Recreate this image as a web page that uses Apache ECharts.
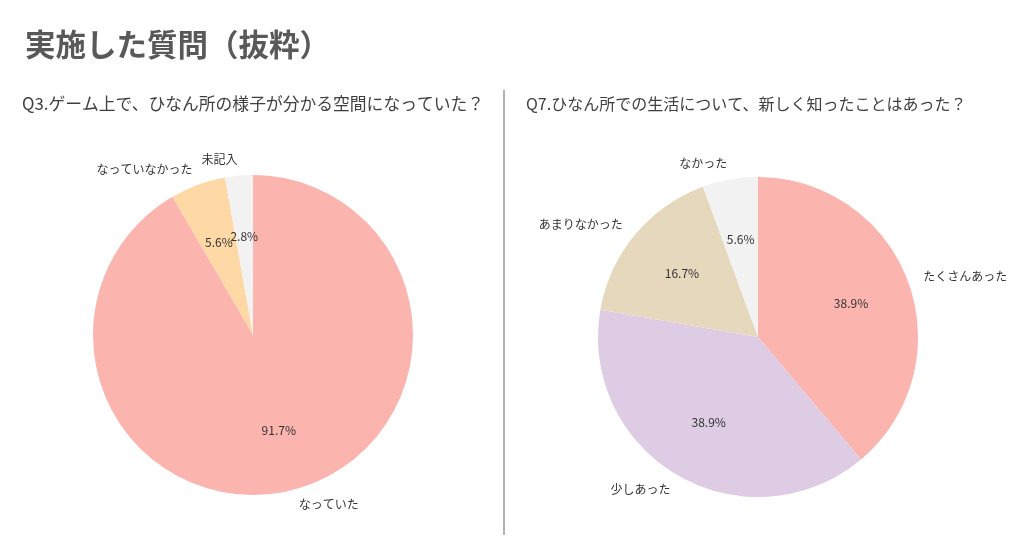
<!DOCTYPE html>
<html>
<head>
<meta charset="utf-8">
<script src="https://cdn.jsdelivr.net/npm/echarts@6/dist/echarts.min.js"></script>
<style>
  html, body { margin: 0; padding: 0; background: #fff; }
  #chart { width: 1029px; height: 545px; }
</style>
</head>
<body>
<div id="chart"></div>
<script>
// データ（割合 %）
const q3Labels = ["なっていた", "なっていなかった", "未記入"];
const q3Values = [91.7, 5.6, 2.8];
const q3Colors = ["#fbb4ae", "#fed9a6", "#f2f2f2"];

const q7Labels = ["たくさんあった", "少しあった", "あまりなかった", "なかった"];
const q7Values = [38.9, 38.9, 16.7, 5.6];
const q7Colors = ["#fbb4ae", "#decbe4", "#e5d8bd", "#f2f2f2"];

const FONT = "'Noto Sans CJK JP', 'Noto Sans', sans-serif";
const R = 160;

const toData = (labels, values, colors) =>
  labels.map((name, i) => ({ name, value: values[i], itemStyle: { color: colors[i] } }));

// 扇形と外側ラベル（半径の1.1倍）
const pieSeries = (labels, values, colors, center) => ({
  type: "pie",
  center,
  radius: R,
  startAngle: 90,
  clockwise: true,
  avoidLabelOverlap: false,
  silent: true,
  itemStyle: { borderWidth: 0 },
  label: {
    show: true,
    position: "outside",
    formatter: "{b}",
    fontFamily: FONT,
    fontSize: 12,
    color: "#333",
    distanceToLabelLine: 0,
  },
  labelLine: { show: false, length: R * 0.1, length2: 0 },
  emphasis: { disabled: true },
  data: toData(labels, values, colors),
});

// パーセント表示（半径の0.6倍）用の透明な扇形
const pctSeries = (labels, values, center) => ({
  type: "pie",
  center,
  radius: R * 1.2,
  startAngle: 90,
  clockwise: true,
  avoidLabelOverlap: false,
  silent: true,
  itemStyle: { color: "rgba(0,0,0,0)", borderWidth: 0 },
  label: {
    show: true,
    position: "inside",
    formatter: (p) => p.value.toFixed(1) + "%",
    fontFamily: FONT,
    fontSize: 12,
    color: "#333",
  },
  labelLayout: { hideOverlap: false },
  labelLine: { show: false },
  emphasis: { disabled: true },
  data: labels.map((name, i) => ({ name, value: values[i] })),
});

const chart = echarts.init(document.getElementById("chart"));
const option = {
  animation: false,
  backgroundColor: "#fff",
  title: [
    {
      text: "実施した質問（抜粋）",
      left: 20, top: 24,
      textStyle: { fontFamily: FONT, fontSize: 30.5, fontWeight: "bold", color: "#595959" },
    },
    {
      text: "Q3.ゲーム上で、ひなん所の様子が分かる空間になっていた？",
      left: 17, top: 90,
      textStyle: { fontFamily: FONT, fontSize: 16.8, fontWeight: "normal", color: "#404040" },
    },
    {
      text: "Q7.ひなん所での生活について、新しく知ったことはあった？",
      left: 521, top: 91,
      textStyle: { fontFamily: FONT, fontSize: 16, fontWeight: "normal", color: "#404040" },
    },
  ],
  graphic: [
    {
      type: "line",
      shape: { x1: 504, y1: 90, x2: 504, y2: 535 },
      style: { stroke: "#999", lineWidth: 1.5 },
    },
  ],
  series: [
    pieSeries(q3Labels, q3Values, q3Colors, [253, 335]),
    pctSeries(q3Labels, q3Values, [253, 335]),
    pieSeries(q7Labels, q7Values, q7Colors, [758, 337]),
    pctSeries(q7Labels, q7Values, [758, 337]),
  ],
};
option && chart.setOption(option);
</script>
</body>
</html>
